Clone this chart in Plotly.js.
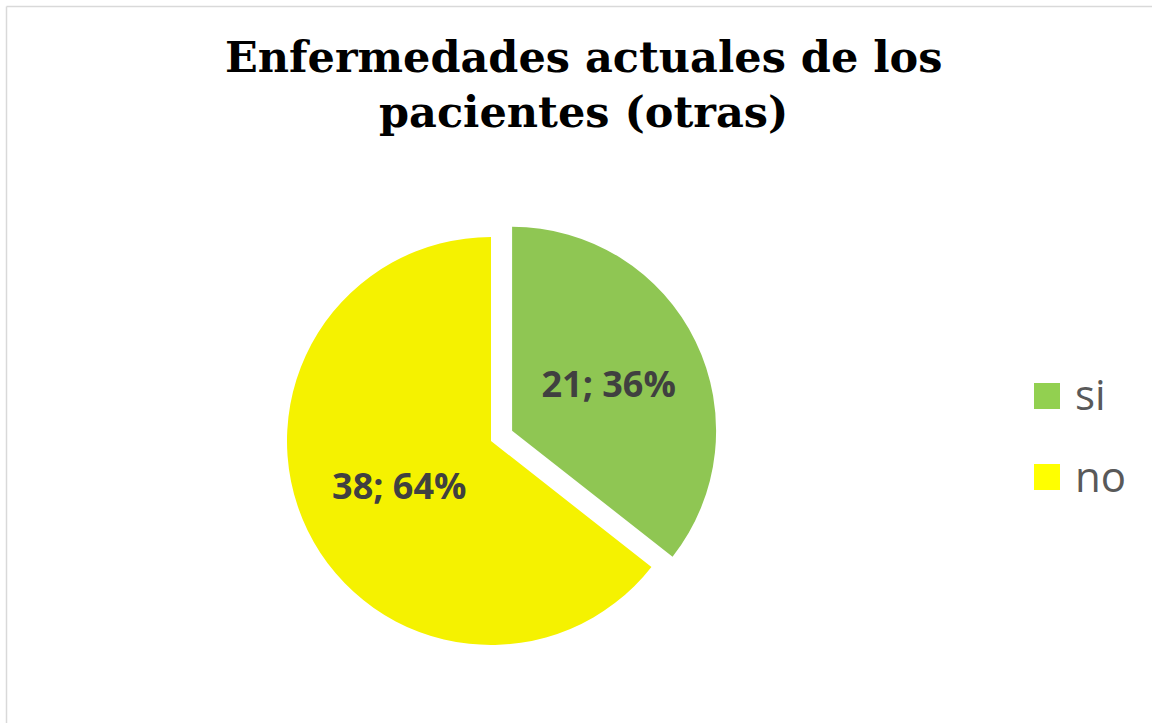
<!DOCTYPE html>
<html>
<head>
<meta charset="utf-8">
<script src="https://cdn.plot.ly/plotly-3.0.1.min.js"></script>
<style>html,body{margin:0;padding:0;background:#fff;}#chart{width:1152px;height:723px;}</style>
</head>
<body>
<div id="chart"></div>
<script>
const categories = ["si", "no"];
const values = [21, 38];
const sliceColors = ["#8FC653", "#F5F200"];
const legendColors = ["#92D050", "#FFFF00"];
const pulls = [0.115, 0];
const titleLines = ["Enfermedades actuales de los", "pacientes (otras)"];

const W = 1152, H = 723;
const cx = 491, cy = 441, r = 204, maxPull = 0.115;
const half = r * (1 + maxPull);

const data = [{
  type: "pie",
  labels: categories,
  values: values,
  sort: false,
  direction: "clockwise",
  rotation: 0,
  pull: pulls,
  marker: {colors: sliceColors, line: {color: "#ffffff", width: 0}},
  texttemplate: "%{value}; %{percent:.0%}",
  textinfo: "text",
  textposition: "inside",
  insidetextorientation: "horizontal",
  textfont: {family: "Open Sans, sans-serif", size: 36, color: "#404040", weight: 700},
  hoverinfo: "label+value+percent",
  domain: {
    x: [(cx - half) / W, (cx + half) / W],
    y: [(H - cy - half) / H, (H - cy + half) / H]
  },
  showlegend: false
}];

// title lines and custom legend built from the arrays
const annotations = [];
const titleCenters = [57, 112];
titleLines.forEach((t, i) => {
  annotations.push({
    text: "<b>" + t + "</b>", xref: "paper", yref: "paper",
    x: 583 / W, y: 1 - titleCenters[i] / H, xanchor: "center", yanchor: "middle",
    showarrow: false,
    font: {family: "DejaVu Serif, serif", size: 43, color: "#000000"}
  });
});
const shapes = [
  {type: "line", xref: "paper", yref: "paper", x0: 6.5 / W, x1: 1, y0: 1 - 6.5 / H, y1: 1 - 6.5 / H, line: {color: "#d9d9d9", width: 1.5}},
  {type: "line", xref: "paper", yref: "paper", x0: 6.5 / W, x1: 6.5 / W, y0: 0, y1: 1 - 6.5 / H, line: {color: "#d9d9d9", width: 1.5}}
];
const legendRows = [396, 477];
categories.forEach((c, i) => {
  const yc = legendRows[i];
  shapes.push({type: "rect", xref: "paper", yref: "paper",
    x0: 1034 / W, x1: 1060 / W, y0: 1 - (yc + 13) / H, y1: 1 - (yc - 13) / H,
    fillcolor: legendColors[i], line: {width: 0}});
  annotations.push({
    text: c, xref: "paper", yref: "paper",
    x: 1073 / W, y: 1 - (yc - 2) / H, xanchor: "left", yanchor: "middle",
    showarrow: false,
    font: {family: "Open Sans, sans-serif", size: 42, color: "#595959"}
  });
});

const layout = {
  width: W, height: H,
  margin: {l: 0, r: 0, t: 0, b: 0},
  paper_bgcolor: "#ffffff",
  showlegend: false,
  annotations: annotations,
  shapes: shapes
};

Plotly.newPlot("chart", data, layout, {displayModeBar: false, staticPlot: true});
</script>
</body>
</html>
